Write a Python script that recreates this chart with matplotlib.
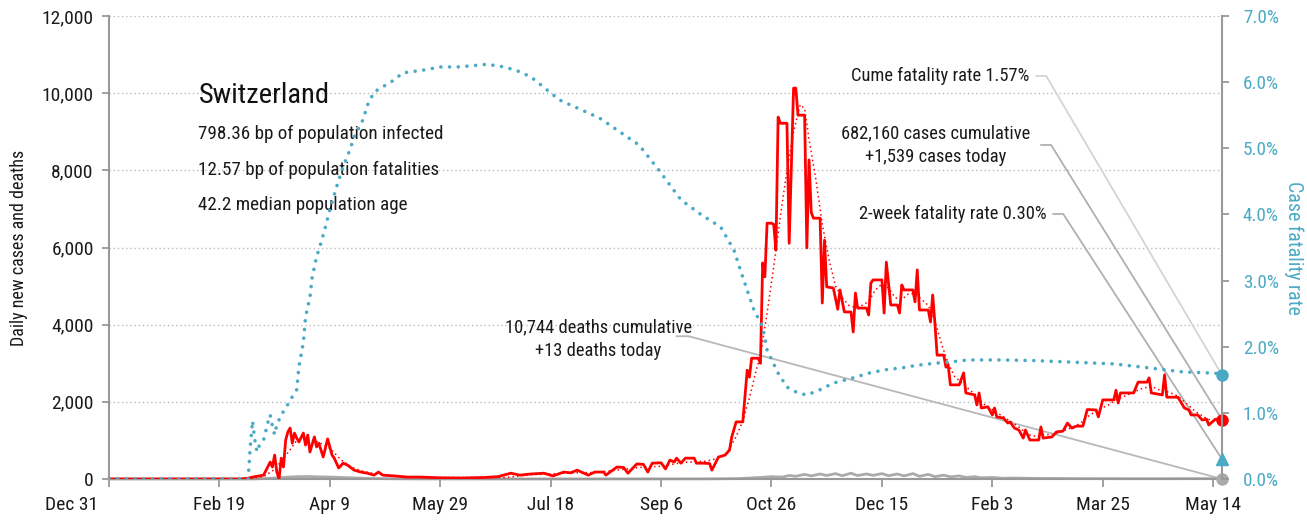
import matplotlib.pyplot as plt
from matplotlib import font_manager, transforms
from matplotlib.ticker import FuncFormatter, MultipleLocator

# prefer a narrow face, the original uses a condensed grotesque
installed = {f.name for f in font_manager.fontManager.ttflist}
narrow = [n for n in ["Liberation Sans Narrow", "DejaVu Sans Condensed", "Roboto Condensed",
                      "Open Sans Condensed", "Noto Sans Condensed", "Liberation Sans"]
          if n in installed]
plt.rcParams["font.family"] = narrow[:1] + ["DejaVu Sans"]

# days counted from Dec 31, 2019
tick_days = [0, 50, 100, 150, 200, 250, 300, 350, 400, 450, 500]
tick_labels = ["Dec 31", "Feb 19", "Apr 9", "May 29", "Jul 18", "Sep 6",
               "Oct 26", "Dec 15", "Feb 3", "Mar 25", "May 14"]

case_days = [0, 60, 63, 65, 70, 73, 74, 75, 76, 77, 78, 79, 80, 81, 82, 83, 84, 85, 86, 88,
             89, 90, 91, 93, 94, 95, 97, 99, 101, 102, 104, 106, 108, 111, 114, 117, 120, 122,
             124, 129, 135, 141, 150, 160, 170, 176, 182, 186, 191, 197, 201, 206, 209, 212,
             217, 220, 224, 225, 230, 233, 235, 239, 242, 244, 246, 250, 252, 254, 256, 257,
             259, 261, 265, 266, 269, 272, 273, 276, 279, 281, 282, 284, 287, 289, 290, 291,
             294, 295, 296, 297, 298, 300, 301, 302, 303, 304, 307, 308, 310, 311, 312, 315,
             316, 317, 318, 319, 322, 323, 324, 325, 328, 330, 331, 333, 336, 337, 338, 339,
             343, 344, 345, 346, 350, 351, 352, 354, 357, 358, 359, 360, 364, 365, 366, 367,
             371, 372, 373, 374, 375, 378, 379, 380, 381, 385, 387, 388, 392, 393, 394, 395,
             398, 400, 401, 402, 405, 407, 408, 410, 412, 414, 415, 417, 421, 422, 423, 427,
             429, 432, 434, 436, 438, 441, 443, 447, 448, 450, 455, 456, 457, 458, 464, 466,
             470, 471, 472, 477, 478, 479, 484, 487, 489, 490, 493, 495, 497, 498, 501, 504]
case_values = [0, 0, 20, 50, 100, 440, 310, 620, 180, 0, 540, 310, 1010, 1220, 1320, 930, 1190,
               1060, 960, 1190, 880, 1140, 700, 1090, 830, 930, 570, 1040, 620, 540, 285, 410,
               360, 230, 180, 150, 100, 180, 100, 80, 50, 50, 30, 25, 40, 60, 150, 100, 130, 150,
               80, 180, 160, 230, 100, 180, 180, 100, 310, 300, 150, 390, 380, 180, 410, 420,
               260, 490, 440, 540, 410, 540, 540, 410, 410, 400, 230, 570, 620, 750, 1090, 1480,
               1480, 2820, 2640, 3130, 3130, 3000, 5600, 5240, 6630, 6630, 6600, 5930, 9380,
               9220, 9220, 6110, 10130, 10130, 9430, 9430, 5990, 8270, 6910, 6760, 6760, 4560,
               6190, 4980, 4950, 4400, 4900, 4330, 4330, 3810, 4820, 4430, 4430, 4250, 5080,
               5160, 5160, 4300, 5620, 4510, 4510, 4300, 5030, 4900, 4900, 4590, 5420, 4380,
               4380, 4070, 4770, 4040, 3210, 3210, 2900, 2950, 2440, 2440, 2750, 2230, 2180,
               1920, 2230, 1840, 1870, 1660, 1840, 1610, 1580, 1450, 1480, 1320, 1270, 1060,
               1270, 1010, 1010, 1350, 1060, 1090, 1220, 1240, 1450, 1320, 1370, 1370, 1800,
               1790, 1610, 2050, 2050, 2300, 1970, 2230, 2230, 2510, 2510, 2620, 2230, 2180,
               2700, 2120, 2120, 1840, 1790, 1660, 1660, 1530, 1550, 1400, 1550, 1539]

avg_days = [0, 63, 70, 75, 80, 85, 90, 95, 100, 105, 110, 115, 120, 130, 140, 180, 190, 200,
            210, 220, 230, 240, 250, 260, 270, 277, 280, 284, 287, 290, 293, 295, 298, 301,
            304, 307, 310, 313, 315, 317, 320, 323, 326, 329, 332, 335, 338, 341, 344, 347,
            350, 353, 356, 359, 362, 365, 368, 371, 374, 377, 380, 383, 386, 389, 392, 396,
            400, 404, 408, 412, 416, 420, 424, 428, 432, 436, 440, 444, 448, 452, 456, 460,
            464, 468, 472, 476, 480, 484, 488, 492, 496, 500, 504]
avg_values = [0, 10, 60, 250, 600, 1000, 1050, 950, 800, 500, 300, 200, 140, 80, 40, 40, 110,
              130, 160, 170, 230, 300, 330, 430, 460, 550, 700, 1100, 1500, 2100, 2800, 3200,
              4300, 5500, 6800, 8000, 9000, 9700, 9600, 8800, 7800, 6600, 5700, 5000, 4700,
              4500, 4450, 4500, 4600, 4900, 5050, 4950, 4700, 4650, 4800, 4800, 4650, 4500,
              4100, 3500, 3000, 2650, 2500, 2350, 2200, 1950, 1800, 1650, 1500, 1350, 1150,
              1100, 1150, 1150, 1250, 1330, 1450, 1650, 1800, 1900, 2050, 2150, 2250, 2350,
              2400, 2300, 2250, 2150, 1950, 1750, 1600, 1500, 1480]

death_days = [0, 60, 65, 70, 75, 80, 85, 90, 95, 100, 105, 110, 115, 120, 130, 140, 200, 270,
              285, 290, 295, 300, 305, 308, 311, 315, 318, 322, 325, 329, 332, 336, 339, 343,
              346, 350, 353, 357, 360, 364, 367, 371, 374, 378, 381, 385, 388, 392, 395, 400,
              405, 410, 420, 430, 440, 460, 480, 500, 504]
death_values = [0, 0, 2, 10, 25, 45, 60, 65, 55, 50, 40, 30, 20, 12, 5, 2, 1, 3, 10, 25, 40,
                60, 50, 90, 70, 120, 80, 130, 90, 140, 85, 150, 90, 130, 95, 140, 85, 130, 80,
                140, 70, 120, 60, 100, 55, 80, 40, 60, 30, 40, 20, 25, 15, 12, 10, 8, 8, 10, 13]

cfr_days = [0, 63, 64, 65, 66, 67, 68, 69, 70, 72, 73, 74, 75, 76, 78, 80, 82, 85, 86, 88, 89,
            91, 92, 94, 96, 98, 100, 103, 106, 109, 111, 115, 117, 120, 124, 129, 133, 142,
            150, 158, 165, 171, 179, 185, 191, 194, 204, 222, 240, 249, 259, 268, 277, 283,
            287, 292, 296, 298, 303, 307, 312, 316, 322, 328, 336, 344, 351, 359, 366, 374,
            381, 389, 404, 419, 434, 448, 455, 471, 486, 501, 504]
cfr_values = [0, 0, 0.5, 0.88, 0.6, 0.41, 0.5, 0.55, 0.59, 0.86, 0.97, 0.8, 0.67, 0.82, 0.97,
              1.07, 1.19, 1.35, 1.7, 2.06, 2.45, 2.75, 3.05, 3.36, 3.57, 3.81, 4.07, 4.41,
              4.72, 4.97, 5.17, 5.43, 5.65, 5.85, 5.93, 6.03, 6.14, 6.18, 6.23, 6.23, 6.25,
              6.27, 6.23, 6.17, 6.08, 6.0, 5.73, 5.46, 5.05, 4.67, 4.22, 4.0, 3.81, 3.46, 3.05,
              2.56, 2.3, 1.95, 1.6, 1.39, 1.3, 1.27, 1.35, 1.45, 1.52, 1.6, 1.65, 1.68, 1.72,
              1.75, 1.77, 1.8, 1.8, 1.79, 1.77, 1.75, 1.74, 1.68, 1.62, 1.6, 1.57]

last_day = 504
cases_today = 1539
deaths_today = 13
cume_cfr = 1.57
twoweek_cfr = 0.30

RED = "#ff0000"
BLUE = "#4aaac6"
GRAY = "#999999"
TXT = "#1a1a1a"
YMAX = 12000
PMAX = 7.0


def pct_to_left(p):
    return p / PMAX * YMAX


fig = plt.figure(figsize=(13.07, 5.29), dpi=100)
ax = fig.add_axes([109 / 1307, 1 - 479 / 529, (1222 - 109) / 1307, (479 - 16) / 529])
ax2 = ax.twinx()

ax.set_xlim(0, last_day)
ax.set_ylim(0, YMAX)
ax2.set_ylim(0, PMAX)

for y in range(2000, YMAX + 1, 2000):
    ax.axhline(y, color="#bbbbbb", lw=1, ls=(0, (1, 2)), zorder=0)

ax.plot(death_days, death_values, color="#aaaaaa", lw=2, zorder=2, clip_on=False)
ax.plot(avg_days, avg_values, color=RED, lw=1.1, ls=(0, (1, 2)), zorder=3)
ax.plot(case_days, case_values, color=RED, lw=2.0, zorder=4)
ax2.plot(cfr_days, cfr_values, color=BLUE, lw=2.6, ls=(0, (0.01, 2.4)),
         dash_capstyle="round", zorder=5)

# end markers
ax2.plot(last_day, cume_cfr, "o", color=BLUE, ms=8, clip_on=False, zorder=6)
ax2.plot(last_day, twoweek_cfr, "^", color=BLUE, ms=9, clip_on=False, zorder=6)
ax.plot(last_day, cases_today, "o", color=RED, ms=8, clip_on=False, zorder=6)
ax.plot(last_day, 0, "o", color="#aaaaaa", ms=8, clip_on=False, zorder=6)

# annotations with leader lines
FS = 13.3
ax.text(416.7, 10446, f"Cume fatality rate {cume_cfr:.2f}%", ha="right", va="center",
        fontsize=FS, color=TXT)
ax.plot([419.9, 424.4, last_day], [10446, 10446, pct_to_left(cume_cfr)],
        color="#d4d4d4", lw=1.3, clip_on=False, zorder=1)

ax.text(374.5, 8657, "682,160 cases cumulative\n+1,539 cases today", ha="center",
        va="center", fontsize=FS, color=TXT, linespacing=1.4)
ax.plot([422.1, 426.6, last_day], [8657, 8657, cases_today],
        color="#b0b0b0", lw=1.3, clip_on=False, zorder=1)

ax.text(424.4, 6868, f"2-week fatality rate {twoweek_cfr:.2f}%", ha="right", va="center",
        fontsize=FS, color=TXT)
ax.plot([427.6, 432.1, last_day], [6868, 6868, pct_to_left(twoweek_cfr)],
        color="#b0b0b0", lw=1.3, clip_on=False, zorder=1)

ax.text(221.6, 3630, "10,744 deaths cumulative\n+13 deaths today", ha="center",
        va="center", fontsize=FS, color=TXT, linespacing=1.4)
ax.plot([257, 262.5, last_day], [3700, 3700, 0],
        color="#b8b8b8", lw=1.3, clip_on=False, zorder=1)

ax.text(40.5, 9950, "Switzerland", fontsize=20.5, color="#111111", va="center")
ax.text(40.5, 8950, "798.36 bp of population infected", fontsize=13.8, color=TXT, va="center")
ax.text(40.5, 8020, "12.57 bp of population fatalities", fontsize=13.8, color=TXT, va="center")
ax.text(40.5, 7100, "42.2 median population age", fontsize=13.8, color=TXT, va="center")

# axes styling
for a in (ax, ax2):
    a.spines["top"].set_visible(False)
    for s in ("left", "right", "bottom"):
        a.spines[s].set_color(GRAY)
        a.spines[s].set_linewidth(1.5)
ax.spines["right"].set_visible(False)
ax2.spines["left"].set_visible(False)
ax2.spines["bottom"].set_visible(False)

ax.set_xticks(tick_days)
ax.set_xticklabels(tick_labels)
ax.yaxis.set_major_locator(MultipleLocator(2000))
ax.yaxis.set_major_formatter(FuncFormatter(lambda v, p: f"{int(v):,}"))
ax2.yaxis.set_major_locator(MultipleLocator(1.0))
ax2.yaxis.set_major_formatter(FuncFormatter(lambda v, p: f"{v:.1f}%"))

ax.tick_params(axis="x", length=6, width=1.3, color=GRAY, labelsize=14, labelcolor=TXT, pad=6)
ax.tick_params(axis="y", length=5, width=1.3, color=GRAY, labelsize=14, labelcolor=TXT, pad=6)
ax2.tick_params(axis="y", length=5, width=1.3, color=GRAY, labelsize=13.8, labelcolor=BLUE,
                pad=10)

# first date label sits left of the axis
first = ax.get_xticklabels()[0]
first.set_transform(first.get_transform() +
                    transforms.ScaledTranslation(-0.37, 0, fig.dpi_scale_trans))

ax.set_ylabel("Daily new cases and deaths", fontsize=13, color=TXT, labelpad=10)
ax2.set_ylabel("Case fatality rate", fontsize=14.3, color=BLUE, rotation=270, labelpad=18)

fig.savefig("out.png", dpi=100)
